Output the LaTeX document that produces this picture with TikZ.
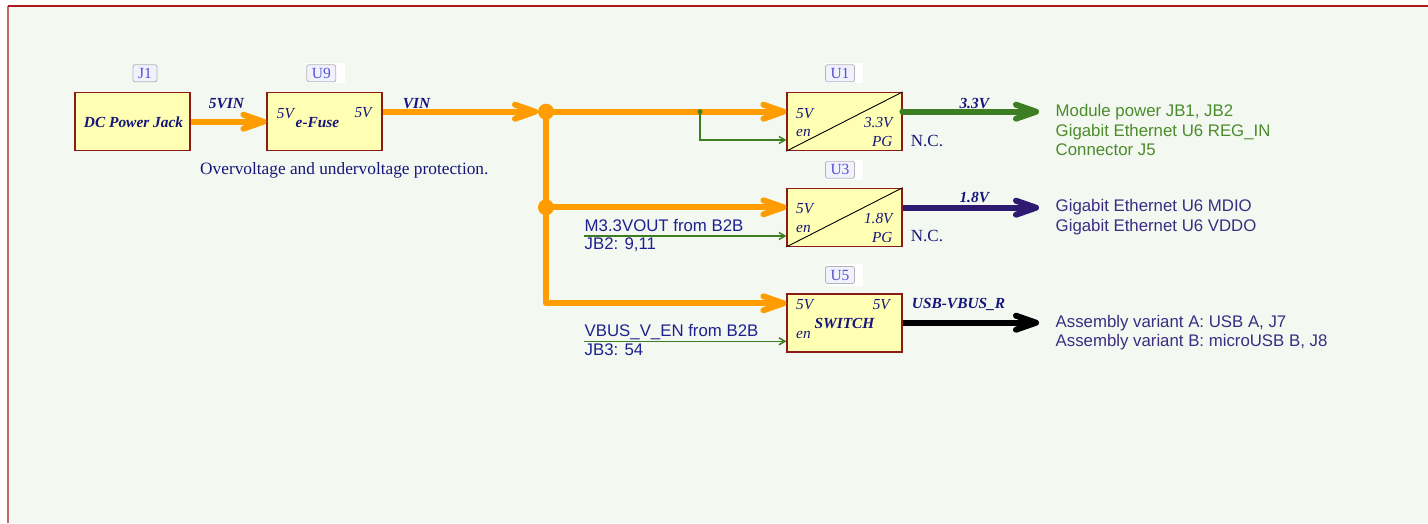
\documentclass[tikz,border=0pt]{standalone}
\usepackage{fontspec}
\setmainfont{Liberation Serif}
\newfontfamily\labfont{Liberation Sans}
\usetikzlibrary{arrows.meta}
\definecolor{bg}{HTML}{F3F9F1}
\definecolor{frameT}{HTML}{B01820}
\definecolor{frameL}{HTML}{C06868}
\definecolor{boxfill}{HTML}{FFFFB4}
\definecolor{boxline}{HTML}{8B1A1A}
\definecolor{orng}{HTML}{FF9C00}
\definecolor{navy}{HTML}{16167A}
\definecolor{grn}{HTML}{3E7E22}
\definecolor{grntext}{HTML}{4B8B2B}
\definecolor{indigo}{HTML}{2E1A70}
\definecolor{indtext}{HTML}{3C2C82}
\definecolor{navytext}{HTML}{1E2090}
\definecolor{tagtext}{HTML}{5050D0}
\definecolor{tagline}{HTML}{B4B4B8}
\definecolor{tagfill}{HTML}{F2F2FF}
\tikzset{
  pbox/.style={draw=boxline, fill=boxfill, line width=1.2pt, minimum width=115pt, minimum height=58pt, inner sep=0pt},
  tag/.style={draw=tagline, fill=tagfill, rounded corners=2pt, line width=0.8pt, minimum width=24pt, minimum height=17pt, inner sep=0pt, text=tagtext, font=\fontsize{15.5}{16}\selectfont},
  bi/.style={inner sep=0pt, text=navy, font=\fontsize{15.4}{16}\selectfont\bfseries\itshape},
  iv/.style={inner sep=0pt, text=navy, font=\fontsize{15.3}{16}\selectfont\itshape},
  rm/.style={inner sep=0pt, text=navy, font=\fontsize{17}{18}\selectfont},
  sans/.style={inner sep=0pt, font=\fontsize{16.8}{20}\selectfont\labfont},
  thickarr/.style={line width=6pt, -{Straight Barb[length=20pt,width=14pt,round]}},
  thinarr/.style={line width=1.5pt, grn, -{Straight Barb[length=6pt,width=7pt]}},
  dot/.style={circle, fill=orng, minimum size=16pt, inner sep=0pt},
}
\begin{document}
\begin{tikzpicture}[x=1pt,y=-1pt]
\useasboundingbox (0,0) rectangle (1428,523);
\fill[white] (0,0) rectangle (1428,523);
\fill[bg] (8,6) rectangle (1428,523);
\draw[frameL, line width=1.7pt] (8,6) -- (8,523);
\draw[frameT, line width=1.5pt] (8,6) -- (1428,6);

% boxes
\node[pbox] (J1) at (132.5,121.5) {};
\node[pbox] (U9) at (324.5,121.5) {};
\node[pbox] (U1) at (844.5,121.5) {};
\node[pbox] (U3) at (844.5,217.3) {};
\node[pbox] (U5) at (844.5,323) {};
\draw[black, line width=0.9pt] (U1.south west) -- (U1.north east);
\draw[black, line width=0.9pt] (U3.south west) -- (U3.north east);

% tags
\node[tag] (tJ1) at (145,73.3) {J1};
\fill[white] (306,63.3) rectangle (345,83.3);
\node[tag, minimum width=29pt] (tU9) at (321.3,73.3) {U9};
\fill[white] (825,63.3) rectangle (863.3,83.3);
\node[tag, minimum width=29pt] (tU1) at (840,73.3) {U1};
\fill[white] (825,159.5) rectangle (863.3,179.5);
\node[tag, minimum width=29pt] (tU3) at (840,169.7) {U3};
\fill[white] (825,264) rectangle (863.3,285.5);
\node[tag, minimum width=29pt] (tU5) at (840,275) {U5};

% box texts
\node[bi, anchor=base] (tj1) at (133.5,127.7) {DC Power Jack};
\node[iv, anchor=base west] (u9a) at (276.7,118.3) {5V};
\node[bi, anchor=base] (u9b) at (317.5,127.7) {e-Fuse};
\node[iv, anchor=base east] (u9c) at (371.7,117.3) {5V};

\node[iv, anchor=base west] (u1a) at (796,118.3) {5V};
\node[iv, anchor=base west] (u1b) at (796,136) {en};
\node[iv, anchor=base east] (u1c) at (892.7,127.7) {3.3V};
\node[iv, anchor=base east] (u1d) at (892.7,146.7) {PG};

\node[iv, anchor=base west] (u3a) at (796,213.3) {5V};
\node[iv, anchor=base west] (u3b) at (796,232.3) {en};
\node[iv, anchor=base east] (u3c) at (892.7,223.3) {1.8V};
\node[iv, anchor=base east] (u3d) at (892.7,242.3) {PG};

\node[iv, anchor=base west] (u5a) at (796,309.3) {5V};
\node[iv, anchor=base east] (u5b) at (890,309.3) {5V};
\node[bi, anchor=base] (u5c) at (844.5,328.3) {SWITCH};
\node[iv, anchor=base west] (u5d) at (796,338.3) {en};

\node[rm, anchor=base west] (nc1) at (910.7,146.7) {N.C.};
\node[rm, anchor=base west] (nc2) at (910.7,241.7) {N.C.};
\node[inner sep=0pt, text=navy, font=\fontsize{17.3}{18}\selectfont, anchor=base west] (ovp) at (200,174.3) {Overvoltage and undervoltage protection.};

% net labels
\node[bi, anchor=base] (l5vin) at (226.5,108.3) {5VIN};
\node[bi, anchor=base] (lvin) at (416.5,108.3) {VIN};
\node[bi, anchor=base] (l33) at (974.3,108.3) {3.3V};
\node[bi, anchor=base] (l18) at (974.3,202.3) {1.8V};
\node[bi, anchor=base west] (lusb) at (911.7,308.3) {USB-VBUS\_R};

% junction coordinates
\coordinate (j1c) at (546,111.7);
\coordinate (j2c) at (546,207.3);
\coordinate (corner) at (546,303.3);

% orange power
\draw[orng, thickarr] (J1.east |- 0,121.7) -- (U9.west |- 0,121.7);
\draw[orng, thickarr] (U9.east |- 0,111.7) -- (538,111.7);
\draw[orng, thickarr, line join=round] (j1c) -- (corner) -- (U5.west |- corner);
\draw[orng, thickarr] (j1c) -- (U1.west |- j1c);
\draw[orng, thickarr] (j2c) -- (U3.west |- j2c);
\node[dot] (j1) at (j1c) {};
\node[dot] (j2) at (j2c) {};
\node[circle, fill=grn, minimum size=5pt, inner sep=0pt] (g1) at (700,111.7) {};

% enables
\draw[thinarr] (g1.center) -- (700,140) -- (U1.west |- 0,140);
\coordinate (en3) at (584,236);
\coordinate (en5) at (584,341.3);
\draw[thinarr] (en3) -- (U3.west |- en3);
\draw[thinarr] (en5) -- (U5.west |- en5);

\node[sans, text=navytext, anchor=base west] (m33a) at (584.5,231) {M3.3VOUT from B2B};
\node[sans, text=navytext, anchor=base west] (m33b) at (584.5,249.5) {JB2: 9,11};
\node[sans, text=navytext, anchor=base west] (vba) at (584.5,336.7) {VBUS\_V\_EN from B2B};
\node[sans, text=navytext, anchor=base west] (vbb) at (584.5,355.5) {JB3: 54};

% outputs
\coordinate (o1) at (1039,111.7);
\coordinate (o2) at (1039,207.7);
\coordinate (o3) at (1039,322.7);
\draw[grn, thickarr] (U1.east |- o1) -- (o1);
\fill[grn] (U1.east |- o1) circle (3.2pt);
\draw[indigo, thickarr] (U3.east |- o2) -- (o2);
\draw[black, thickarr] (U5.east |- o3) -- (o3);

\node[sans, text=grntext, anchor=base west] (t1) at (1055.5,116) {Module power JB1, JB2};
\node[sans, text=grntext, anchor=base west] (t2) at (1055.5,136) {Gigabit Ethernet U6 REG\_IN};
\node[sans, text=grntext, anchor=base west] (t3) at (1055.5,155.5) {Connector J5};
\node[sans, text=indtext, anchor=base west] (t4) at (1055.5,211.7) {Gigabit Ethernet U6 MDIO};
\node[sans, text=indtext, anchor=base west] (t5) at (1055.5,231) {Gigabit Ethernet U6 VDDO};
\node[sans, text=indtext, anchor=base west] (t6) at (1055.5,327.3) {Assembly variant A: USB A, J7};
\node[sans, text=indtext, anchor=base west] (t7) at (1055.5,346.5) {Assembly variant B: microUSB B, J8};
\end{tikzpicture}
\end{document}
